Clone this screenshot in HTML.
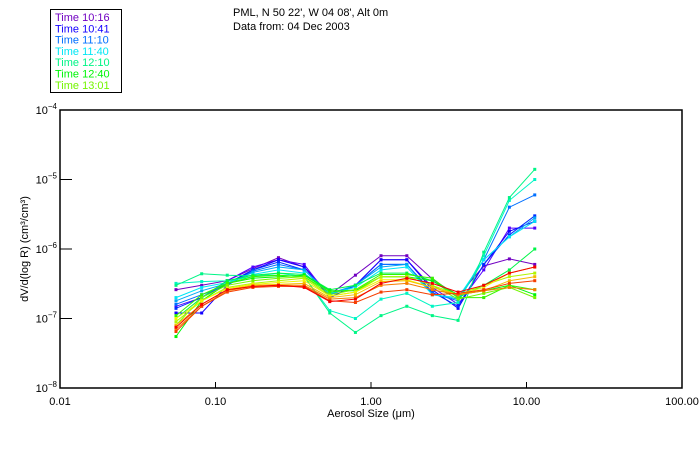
<!DOCTYPE html>
<html><head><meta charset="utf-8"><style>
body{margin:0;background:#fff;}
svg text{font-family:"Liberation Sans",sans-serif;}
</style></head><body>
<svg id="chart" width="700" height="450" viewBox="0 0 700 450" xmlns="http://www.w3.org/2000/svg">
<rect width="700" height="450" fill="#fff"/>
<g>
<rect x="50.5" y="9.5" width="71" height="83" fill="none" stroke="#000" stroke-width="1"/>
<g id="legend-items"></g>
</g>
<text x="233" y="16" font-size="11">PML, N 50 22', W 04 08', Alt 0m</text>
<text x="233" y="30" font-size="11">Data from: 04 Dec 2003</text>
<g id="plot"></g>
<text x="371" y="417" font-size="11" text-anchor="middle">Aerosol Size (μm)</text>
<text transform="translate(28,249) rotate(-90)" font-size="11" text-anchor="middle">dV/d(log R) (cm³/cm³)</text>
</svg>
<script>
const sizes = [0.0557,0.0815,0.119,0.174,0.254,0.372,0.543,0.794,1.16,1.70,2.48,3.63,5.31,7.76,11.3];
const legendLabels = ["Time 10:16","Time 10:41","Time 11:10","Time 11:40","Time 12:10","Time 12:40","Time 13:01"];
const xTicks = [0.01,0.1,1,10,100];
const xTickLabels = ["0.01","0.10","1.00","10.00","100.00"];
const yTicks = [-8,-7,-6,-5,-4];
// values in units of 1e-7
const s1 =[2.6,3.0,3.5,5.2,7.5,5.5,2.2,4.2,8.0,8.0,3.7,2.1,5.7,7.2,6];
const s2 =[1.5,2.0,3.5,5.5,7,6,2,3,7,7,2.8,1.6,5,20,20];
const s3 =[1.2,1.2,3,5,7,5.5,2,3,7,7,2.6,1.4,6,18,25];
const s4 =[1.4,2,3.2,5,6.5,5,2.2,3,6,6,2.4,1.5,6,16,30];
const s5 =[1.6,2.2,3,4.8,6,5,2.2,3,6,6,2.3,1.8,7,40,60];
const s6 =[1.8,2.5,3.2,4.6,5.5,5,2.3,3,5.5,6,2.2,1.9,7,15,28];
const s7 =[2.0,2.8,3.3,4.3,5,4.5,2.3,2.8,5,5.5,2.2,2,7,15,25];
const s8 =[3.2,3.4,3.5,4,4.5,4,1.3,1.0,1.9,2.3,1.5,1.7,8,50,100];
const s9 =[3.0,4.4,4.2,4.1,4.2,4,1.2,0.63,1.1,1.5,1.1,0.94,9,55,140];
const s10=[1.0,2.0,3.5,4.2,4.5,4.3,2.6,3,4.5,4.5,3.5,2,3,5,10];
const s11=[0.55,1.8,3.2,3.8,4,4.2,2.5,2.5,4,4,3.5,2.2,2.5,3,2.2];
const s12=[1.1,2.2,3.2,4,4.2,4,2.4,2.6,4.3,4.3,3.8,2,2,3,2.6];
const s13=[0.8,2,3,3.5,3.8,4,2.2,2.6,4,4,3,1.9,2.3,2.8,2];
const s14=[0.9,1.8,2.8,3.2,3.5,3.8,2.1,2.4,4,4,3,2.2,3,4,4.5];
const s15=[1.0,1.8,2.7,3.1,3.3,3.5,2.1,2.4,3.6,3.6,2.8,2.2,2.8,4.5,5.5];
const s16=[0.8,1.6,2.6,3,3.1,3.2,2.0,2.2,3.4,3.5,2.8,2.2,2.5,3.5,4];
const s17=[0.7,1.5,2.5,2.9,3,3,1.9,2,3,3.2,2.6,2.2,2.5,2.8,2.6];
const s18=[0.65,1.5,2.4,2.8,2.9,2.9,1.8,1.7,2.4,2.6,2.2,2.3,2.6,3.2,3.5];
const s19=[0.75,1.6,2.6,2.9,3,2.8,1.75,1.9,3.2,3.8,3.2,2.4,3,4.5,5.5];
const series=[s1,s2,s3,s4,s5,s6,s7,s8,s9,s10,s11,s12,s13,s14,s15,s16,s17,s18,s19];

const X0=60,X1=682,Y0=388,Y1=110;
const xs=v=>X0+(Math.log10(v)+2)/4*(X1-X0);
const ys=v=>Y0-(Math.log10(v*1e-7)+8)/4*(Y0-Y1);
const NS='http://www.w3.org/2000/svg';
const plot=document.getElementById('plot');
function mk(t,a,p){const e=document.createElementNS(NS,t);for(const k in a)e.setAttribute(k,a[k]);(p||plot).appendChild(e);return e;}
function color(i,n){const h=275-i*275/(n-1);const l=(h>200&&h<260)?50:(h>255?38:48);return `hsl(${h},100%,${l}%)`;}

series.forEach((s,i)=>{
  const c=color(i,series.length);
  const g=mk('g',{});
  
  
  const pl=mk('polyline',{points:s.map((v,j)=>xs(sizes[j]).toFixed(1)+','+ys(v).toFixed(1)).join(' '),fill:'none',stroke:c,'stroke-width':1},g);
  
  
  s.forEach((v,j)=>{
    const r=mk('rect',{x:xs(sizes[j])-1.5,y:ys(v)-1.5,width:3,height:3,fill:c},g);
    
    
  });
});

const ax=mk('rect',{x:X0,y:Y1,width:X1-X0,height:Y0-Y1,fill:'none',stroke:'#000','stroke-width':1.5});


xTicks.forEach((t,i)=>{
  const x=xs(t);
  const tk=mk('line',{x1:x,x2:x,y1:Y0,y2:Y0-6,stroke:'#000','stroke-width':1});
  
  
  const lb=mk('text',{x:x,y:Y0+17,'font-size':11,'text-anchor':'middle'});
  lb.textContent=xTickLabels[i];
  
  
});
yTicks.forEach(t=>{
  const y=Y0-(t+8)/4*(Y0-Y1);
  const tk=mk('line',{x1:X0,x2:X0+12,y1:y,y2:y,stroke:'#000','stroke-width':1});
  
  
  const lb=mk('text',{x:X0-3,y:y+4,'font-size':11,'text-anchor':'end'});
  
  
  const sp=mk('tspan',{'font-size':8,dy:-5},lb);sp.textContent='−'+(-t);
  lb.insertBefore(document.createTextNode('10'),sp);
});
const leg=document.getElementById('legend-items');
legendLabels.forEach((l,i)=>{
  const t=mk('text',{x:55,y:21+i*11.3,'font-size':11,fill:color(i*2,series.length)},leg);
  t.textContent=l;
  
  
});
</script>
</body></html>
